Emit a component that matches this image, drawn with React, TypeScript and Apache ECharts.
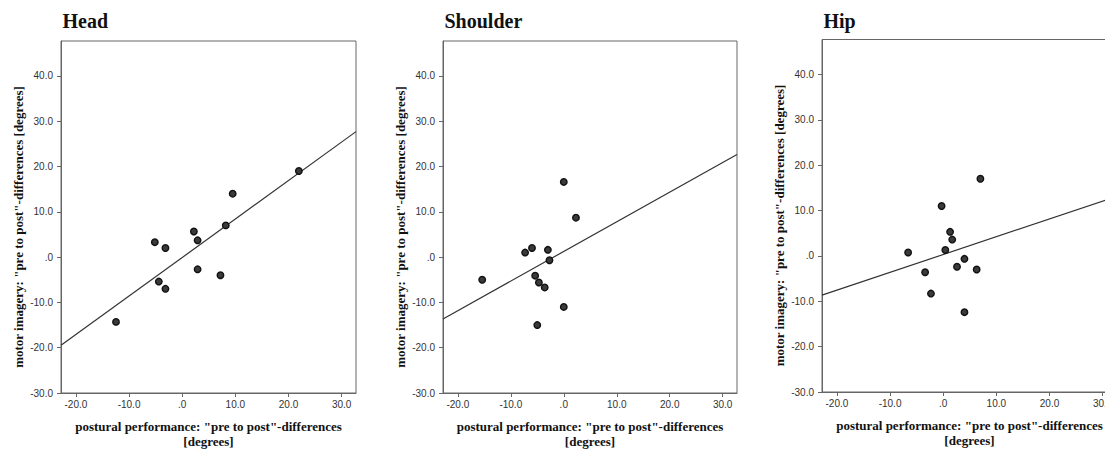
import React, { useEffect, useRef } from "react";
import * as echarts from "echarts";

// ---- data ----
const panelTitles = ["Head", "Shoulder", "Hip"];

const headX = [-12.45, -5.15, -3.15, -4.4, -3.15, 2.2, 2.9, 2.9, 7.2, 8.2, 9.5, 21.95];
const headY = [-14.3, 3.3, 2.0, -5.4, -7.0, 5.65, 3.7, -2.7, -4.0, 7.0, 14.0, 19.0];

const shoulderX = [-15.4, -7.3, -6.0, -3.0, -2.7, -5.4, -4.7, -3.6, 0.0, 2.3, 0.0, -5.0];
const shoulderY = [-5.0, 1.0, 2.0, 1.6, -0.7, -4.1, -5.6, -6.7, 16.6, 8.7, -11.0, -15.0];

const hipX = [-6.6, -3.4, -2.3, -0.3, 0.4, 1.3, 1.7, 2.6, 4.0, 4.0, 6.3, 7.0];
const hipY = [0.75, -3.6, -8.3, 11.0, 1.3, 5.3, 3.6, -2.4, -0.65, -12.4, -3.0, 17.0];

// fitted regression lines: [intercept, slope]
const headFit = [-0.1, 0.85];
const shoulderFit = [1.25, 0.654];
const hipFit = [0.3, 0.393];

const xTicks = [-20, -10, 0, 10, 20, 30];
const yTicks = [-30, -20, -10, 0, 10, 20, 30, 40];
const xRange = [-22.8, 32.7];
const yRange = [-30, 47.7];

const xAxisTitle = 'postural performance: "pre to post"-differences\n[degrees]';
const yAxisTitle = 'motor imagery: "pre to post"-differences [degrees]';

// ---- layout (pixels) ----
const grids = [
  { left: 61, top: 41, width: 295, height: 352 },
  { left: 443, top: 41, width: 294, height: 352 },
  { left: 822, top: 39.5, width: 295, height: 352.5 },
];

const SERIF = "'Liberation Serif', 'Times New Roman', serif";
const SANS = "'Liberation Sans', Arial, sans-serif";
const FRAME = "#666";

const fmt = (v: number) => (v === 0 ? ".0" : v.toFixed(1));

export default function App() {
  const ref = useRef<HTMLDivElement>(null);

  useEffect(() => {
    if (!ref.current) return;
    const chart = echarts.init(ref.current, null, { renderer: "svg" });

    const xs = [headX, shoulderX, hipX];
    const ys = [headY, shoulderY, hipY];
    const fits = [headFit, shoulderFit, hipFit];

    const grid = grids.map((g) => ({
      ...g,
      show: true,
      borderColor: FRAME,
      borderWidth: 1,
      backgroundColor: "#fff",
      containLabel: false,
      outerBoundsMode: "none",
    }));

    const xAxis = grids.map((_, i) => ({
      type: "value",
      gridIndex: i,
      position: "bottom",
      min: xRange[0],
      max: xRange[1],
      name: xAxisTitle,
      nameLocation: "middle",
      nameGap: 26,
      nameTextStyle: {
        fontFamily: SERIF,
        fontWeight: "bold",
        fontSize: 13,
        lineHeight: 15,
        color: "#111",
      },
      axisLine: { show: true, onZero: false, lineStyle: { color: FRAME, width: 1 } },
      axisTick: {
        show: true,
        inside: false,
        length: 4,
        lineStyle: { color: FRAME },
        customValues: xTicks,
      },
      axisLabel: {
        customValues: xTicks,
        formatter: fmt,
        margin: 6,
        fontFamily: SANS,
        fontSize: 10,
        color: "#333",
      },
      splitLine: { show: false },
    }));

    const yAxis = grids.map((_, i) => ({
      type: "value",
      gridIndex: i,
      position: "left",
      min: yRange[0],
      max: yRange[1],
      axisLine: { show: true, onZero: false, lineStyle: { color: FRAME, width: 1 } },
      axisTick: {
        show: true,
        inside: false,
        length: 4,
        lineStyle: { color: FRAME },
        customValues: yTicks,
      },
      axisLabel: {
        customValues: yTicks,
        formatter: fmt,
        margin: 8,
        fontFamily: SANS,
        fontSize: 10,
        color: "#333",
      },
      splitLine: { show: false },
    }));

    const series: any[] = [];
    grids.forEach((_, i) => {
      const [b0, b1] = fits[i];
      series.push({
        type: "line",
        xAxisIndex: i,
        yAxisIndex: i,
        data: [
          [xRange[0], b0 + b1 * xRange[0]],
          [xRange[1], b0 + b1 * xRange[1]],
        ],
        showSymbol: false,
        symbol: "none",
        lineStyle: { color: "#333", width: 1.2 },
        silent: true,
        z: 2,
      });
      series.push({
        type: "scatter",
        xAxisIndex: i,
        yAxisIndex: i,
        data: xs[i].map((x, k) => [x, ys[i][k]]),
        symbol: "circle",
        symbolSize: 6.5,
        itemStyle: { color: "#3a3a3a", borderColor: "#111", borderWidth: 1.4, opacity: 1 },
        z: 3,
      });
    });

    const graphic: any[] = [];
    grids.forEach((g, i) => {
      graphic.push({
        type: "text",
        x: g.left + 1.5,
        y: 21,
        style: {
          text: panelTitles[i],
          font: `bold 20px ${SERIF}`,
          fill: "#111",
          align: "left",
          verticalAlign: "middle",
        },
      });
      graphic.push({
        type: "text",
        x: g.left - 43,
        y: g.top + 186,
        rotation: Math.PI / 2,
        style: {
          text: yAxisTitle,
          font: `bold 13px ${SERIF}`,
          fill: "#111",
          align: "center",
          verticalAlign: "middle",
        },
      });
    });

    chart.setOption({
      animation: false,
      backgroundColor: "#fff",
      grid,
      xAxis,
      yAxis,
      series,
      graphic,
    });

    return () => chart.dispose();
  }, []);

  return (
    <div
      ref={ref}
      style={{ position: "absolute", left: 0, top: 0, width: 1105, height: 450 }}
    />
  );
}
